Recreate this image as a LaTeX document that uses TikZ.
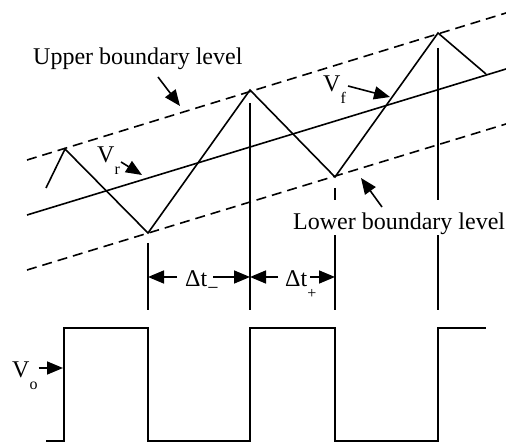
\documentclass[tikz,border=0pt]{standalone}
\usepackage{fontspec}
\setmainfont{Liberation Serif}
\usetikzlibrary{arrows.meta, positioning}
\newcommand{\lowsub}[1]{\raisebox{-0.5em}{\fontsize{16}{16}\selectfont #1}}

\begin{document}
\begin{tikzpicture}[x=1pt, y=-1pt,
  wave/.style={line width=1.6pt, line join=miter},
  bound/.style={line width=1.6pt, dash pattern=on 10pt off 6pt},
  guide/.style={line width=1.2pt},
  pointer/.style={line width=1.6pt, -{Triangle[length=16pt,width=13pt]}},
  lbl/.style={font=\fontsize{24}{28}\selectfont, inner sep=0pt},
]
  \useasboundingbox (0,0) rectangle (506,443);
  \coordinate (p1) at (65,149);
  \coordinate (v1) at (148,233);
  \coordinate (p2) at (250,90);
  \coordinate (v2) at (335,177);
  \coordinate (p3) at (438,33);
  \coordinate (b1) at (148,310);
  \coordinate (b2) at (250,310);
  \coordinate (b3) at (335,310);
  \coordinate (b4) at (438,310);

  \draw[bound] (27,160) -- (506,13);
  \draw[wave] (27,215) -- (506,69);
  \draw[bound] (27,270) -- (506,124);
  \draw[wave] (46,188) -- (p1) -- (v1) -- (p2) -- (v2) -- (p3) -- (486,74);

  \draw[guide] (v1) ++(0,10) -- (b1);
  \draw[guide] (p2) ++(0,13) -- (b2);
  \draw[guide] (v2) ++(0,11) -- (b3);
  \draw[guide] (p3) ++(0,15) -- (b4);

  \draw[wave] (46,441) -- (64,441) -- (64,328) -- (148,328) -- (148,441) -- (250,441)
    -- (250,328) -- (335,328) -- (335,441) -- (438,441) -- (438,328) -- (486,328);

  \node[lbl, anchor=base west] (upper) at (33,65) {Upper boundary level};
  \coordinate (upper tail) at (158,77);
  \coordinate (upper tip) at (180,106);
  \draw[pointer] (upper tail) -- (upper tip);

  \node[lbl, anchor=base west, fill=white, text height=30pt, text depth=5pt] (lower) at (293,230) {Lower boundary level};
  \coordinate (lower tail) at (382,207);
  \coordinate (lower tip) at (361,178);
  \draw[pointer] (lower tail) -- (lower tip);

  \node[lbl, anchor=base west] (vr) at (97,163) {V\lowsub{r}};
  \coordinate (vr tip) at (142,175);
  \draw[pointer] ([xshift=1pt]vr.east |- 0,162) -- (vr tip);

  \node[lbl, anchor=base west] (vf) at (323,92) {V\lowsub{f}};
  \coordinate (vf tip) at (390,97);
  \draw[pointer] ([xshift=2pt]vf.east |- 0,86) -- (vf tip);

  \node[lbl, anchor=base west] (vo) at (12,378) {V\lowsub{o}};
  \coordinate (vo tip) at (63,368);
  \draw[pointer] ([xshift=1pt]vo.east |- vo tip) -- (vo tip);

  \node[lbl, anchor=base west] (dtm) at (185,287) {Δt\raisebox{-0.3em}{\fontsize{20}{20}\selectfont −}};
  \coordinate (m1) at (b1 |- 0,277);
  \coordinate (m2) at (b2 |- 0,277);
  \coordinate (m3) at (b3 |- 0,277);
  \draw[pointer] ([xshift=-8pt]dtm.west |- m1) -- (m1);
  \draw[pointer] (213,277) -- (m2);

  \node[lbl, anchor=base west] (dtp) at (285,287) {Δt\lowsub{+}};
  \draw[pointer] ([xshift=-7pt]dtp.west |- m2) -- (m2);
  \draw[pointer] (310,277) -- (m3);
\end{tikzpicture}
\end{document}
